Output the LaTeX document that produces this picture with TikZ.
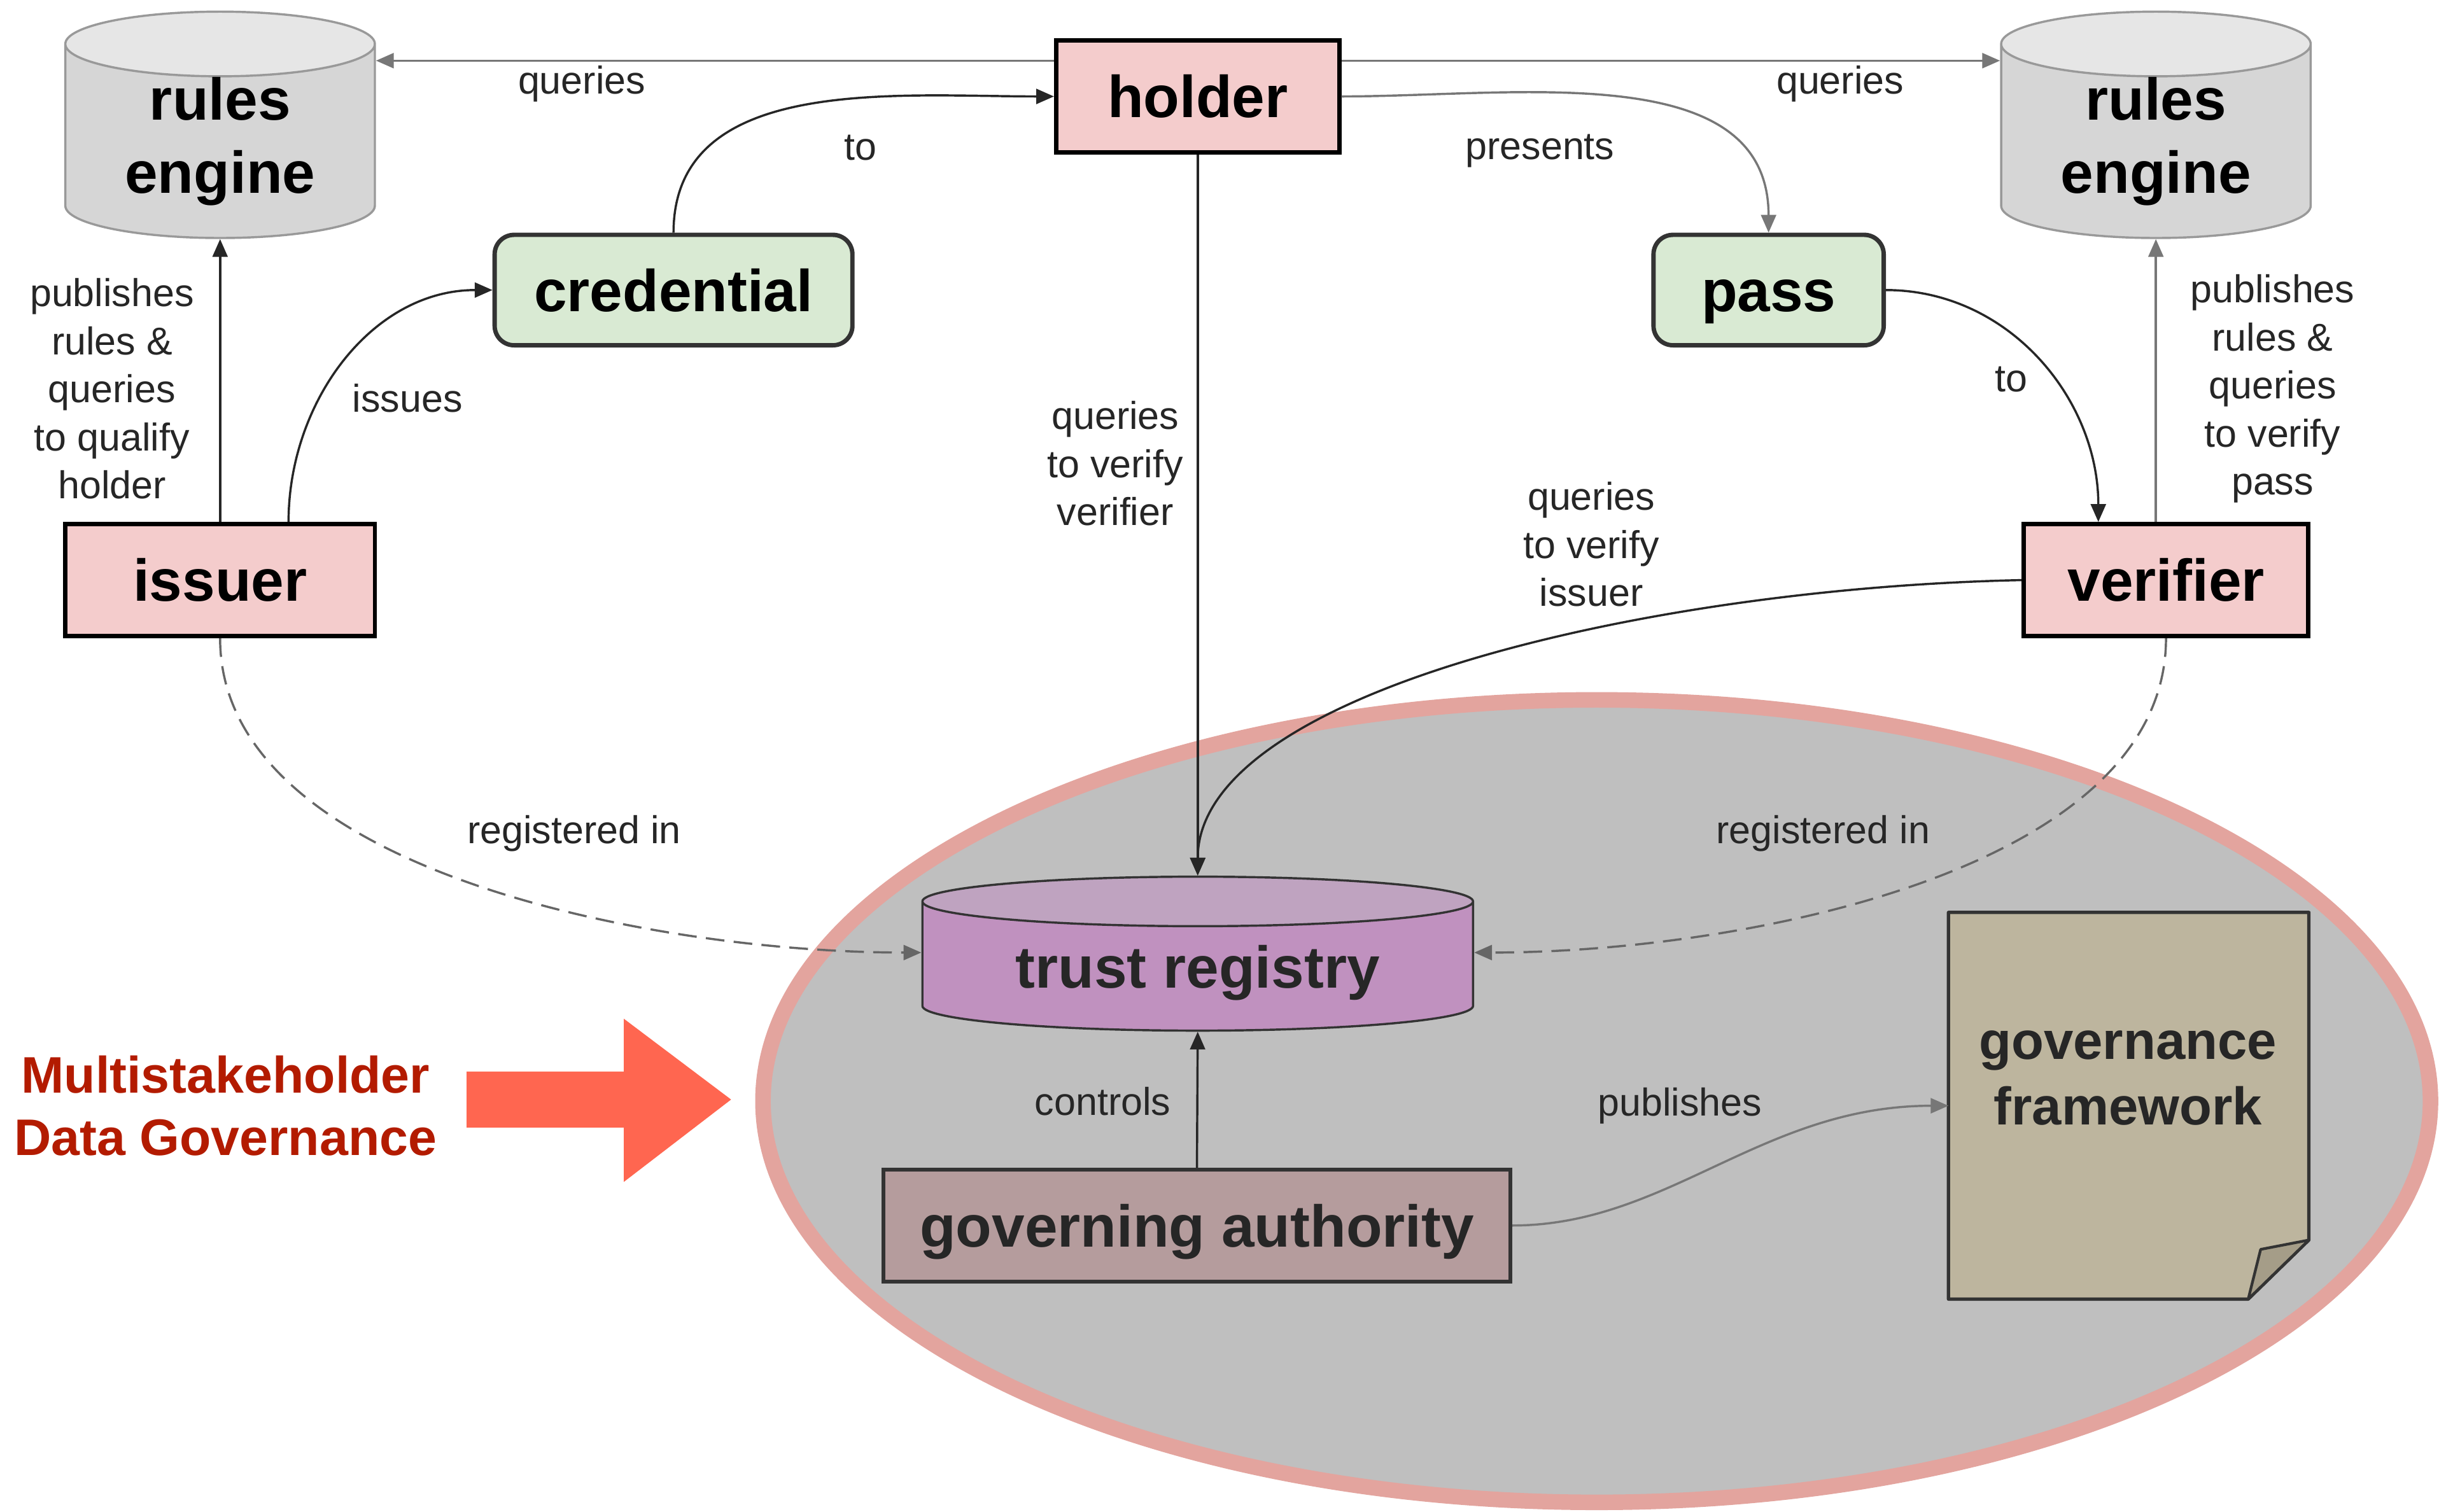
\documentclass[tikz,border=0pt]{standalone}
\usepackage{fontspec}
\setmainfont{Liberation Sans}
\usetikzlibrary{shapes.geometric,arrows.meta,calc}

\definecolor{partyred}{HTML}{F4CCCC}
\definecolor{itemgreen}{HTML}{D9EAD3}
\definecolor{enginebody}{HTML}{D6D6D6}
\definecolor{enginetop}{HTML}{E6E6E6}
\definecolor{enginerim}{HTML}{999999}
\definecolor{registrybody}{HTML}{C091BF}
\definecolor{registrytop}{HTML}{BFA3C0}
\definecolor{authorityfill}{HTML}{B59C9D}
\definecolor{frameworkfill}{HTML}{BDB59E}
\definecolor{frameworkfold}{HTML}{A59D88}
\definecolor{zonefill}{HTML}{BFBFBF}
\definecolor{zonerim}{HTML}{E3A49E}
\definecolor{calloutred}{HTML}{B31B00}
\definecolor{calloutarrow}{HTML}{FF6650}
\definecolor{linkgrey}{HTML}{777777}

\newcommand{\boxtitle}{\fontsize{21.6}{26.7}\selectfont\bfseries}
\newcommand{\edgetext}{\fontsize{14.2}{17.6}\selectfont}

\begin{document}
\begin{tikzpicture}[scale=0.2]
                \tikzstyle{every node}+=[inner sep=0pt]
                \tikzstyle{title}=[font=\boxtitle, text height=15.5pt, text depth=0pt]
                \tikzstyle{party}=[title, draw=black, line width=1.6pt, fill=partyred, minimum height=1.44cm]
                \tikzstyle{item}=[title, draw=black!80, line width=1.6pt, fill=itemgreen, rounded corners=0.25cm, minimum height=1.42cm]
                \tikzstyle{store}=[cylinder, shape border rotate=90, line width=0.8pt, cylinder uses custom fill, align=center, font=\boxtitle]
                \tikzstyle{engine}=[store, aspect=0.34, draw=enginerim, cylinder body fill=enginebody, cylinder end fill=enginetop, minimum width=3.98cm, minimum height=2.8cm]
                \tikzstyle{edge label}=[font=\edgetext, text=black!85, align=center]
                \tikzstyle{dark link}=[draw=black!85, line width=0.8pt, -{Triangle[length=6.5pt,width=5.5pt]}]
                \tikzstyle{grey link}=[dark link, draw=linkgrey]
                \tikzstyle{reg link}=[dark link, draw=black!60, dash pattern=on 0.24cm off 0.12cm]
                \useasboundingbox (0,0) rectangle (156.8,-97.2);
                % governance zone
                \draw [zonerim, fill=zonefill, line width=0.2cm] (102.65,-70.8) ellipse (53.6 and 25.8);
                \fill [calloutarrow] (30.0,-68.9) -- (40.1,-68.9) -- (40.1,-65.5) -- (47.0,-70.7) -- (40.1,-76.0) -- (40.1,-72.5) -- (30.0,-72.5) -- cycle;
                \node [font=\fontsize{18.8}{22.8}\selectfont\bfseries, text=calloutred, align=center] (callout) at (14.5,-71.1) {Multistakeholder\\Data Governance};
                % top row
                \node [engine] (rulesL) at (14.15,-9.1) {rules\\engine};
                \node [engine] (rulesR) at (138.6,-9.1) {rules\\engine};
                \node [party, minimum width=3.64cm] (holder) at (77.0,-6.2) {holder};
                \node [item, minimum width=4.6cm] (cred) at (43.3,-18.65) {credential};
                \node [item, minimum width=2.96cm] (pass) at (113.7,-18.65) {pass};
                \node [party, minimum width=3.98cm] (issuer) at (14.15,-37.3) {issuer};
                \node [party, minimum width=3.66cm] (verifier) at (139.25,-37.3) {verifier};
                % inside the zone
                \node [store, title, aspect=0.136, draw=black!80, cylinder body fill=registrybody, cylinder end fill=registrytop, minimum width=7.08cm, minimum height=1.98cm, text=black!85] (registry) at (77.0,-62.15) {trust registry};
                \node [title, draw=black!80, line width=1.4pt, fill=authorityfill, minimum width=8.06cm, minimum height=1.44cm, text=black!85] (authority) at (76.95,-78.8) {governing authority};
                \node [minimum width=4.62cm, minimum height=4.96cm] (framework) at (136.85,-71.1) {};
                \filldraw [draw=black!80, fill=frameworkfill, line width=1.2pt, line join=round] (framework.north west) -- (framework.north east) -- ($(framework.south east)+(0,3.8)$) -- ($(framework.south east)+(-3.9,0)$) -- (framework.south west) -- cycle;
                \filldraw [draw=black!80, fill=frameworkfold, line width=1.0pt, line join=round] ($(framework.south east)+(0,3.8)$) -- ($(framework.south east)+(-3.1,3.2)$) -- ($(framework.south east)+(-3.9,0)$) -- cycle;
                \node [font=\fontsize{19.4}{23.9}\selectfont\bfseries, text=black!85, align=center] (frameworktext) at (136.8,-69.3) {governance\\framework};
                % connectors
                \coordinate (askL) at ($(holder.west)+(0,2.3)$);
                \coordinate (askR) at ($(holder.east)+(0,2.3)$);
                \draw [grey link] (askL) -- (askL -| rulesL.east);
                \draw [grey link] (askR) -- (askR -| rulesR.west);
                \draw [dark link] (cred.north) to [out=90, in=180] (holder.west);
                \draw [dark link] ($(issuer.north)+(4.4,0)$) to [out=90, in=180] (cred.west);
                \draw [dark link] (issuer.north) -- (rulesL.south);
                \draw [grey link] (holder.east) to [out=0, in=90] (pass.north);
                \draw [dark link] (pass.east) to [out=0, in=90] ($(verifier.north)+(-4.35,0)$);
                \draw [grey link] (verifier.north -| rulesR.south) -- (rulesR.south);
                \draw [dark link] (holder.south) -- (registry.north);
                \draw [dark link] (verifier.west) .. controls +(-24,-0.5) and +(0,11.8) .. (registry.north);
                \draw [reg link] (issuer.south) .. controls +(0,-15) and +(-17,0) .. ($(registry.west)+(0,0.9)$);
                \draw [reg link] (verifier.south) .. controls +(0,-15) and +(17,0) .. ($(registry.east)+(0,0.9)$);
                \draw [dark link] (authority.north) -- (registry.south);
                \draw [grey link] (authority.east) .. controls +(10,0) and +(-12,0) .. (framework.west);
                % labels
                \node [edge label] (qL) at (37.4,-5.4) {queries};
                \node [edge label] (qR) at (118.3,-5.4) {queries};
                \node [edge label] (toholder) at (55.3,-9.5) {to};
                \node [edge label] (issues) at (26.2,-25.6) {issues};
                \node [edge label] (pubL) at (7.2,-25.0) {publishes\\rules \&\\queries\\to qualify\\holder};
                \node [edge label] (presents) at (99.0,-9.7) {presents};
                \node [edge label] (toverifier) at (129.3,-24.4) {to};
                \node [edge label] (pubR) at (146.1,-25.0) {publishes\\rules \&\\queries\\to verify\\pass};
                \node [edge label] (qverifier) at (71.7,-29.8) {queries\\to verify\\verifier};
                \node [edge label] (qissuer) at (102.3,-35.0) {queries\\to verify\\issuer};
                \node [edge label] (regL) at (36.9,-53.6) {registered in};
                \node [edge label] (regR) at (117.2,-53.6) {registered in};
                \node [edge label] (controls) at (70.9,-70.8) {controls};
                \node [edge label] (publishes) at (108.0,-71.1) {publishes};
              \end{tikzpicture}
\end{document}
